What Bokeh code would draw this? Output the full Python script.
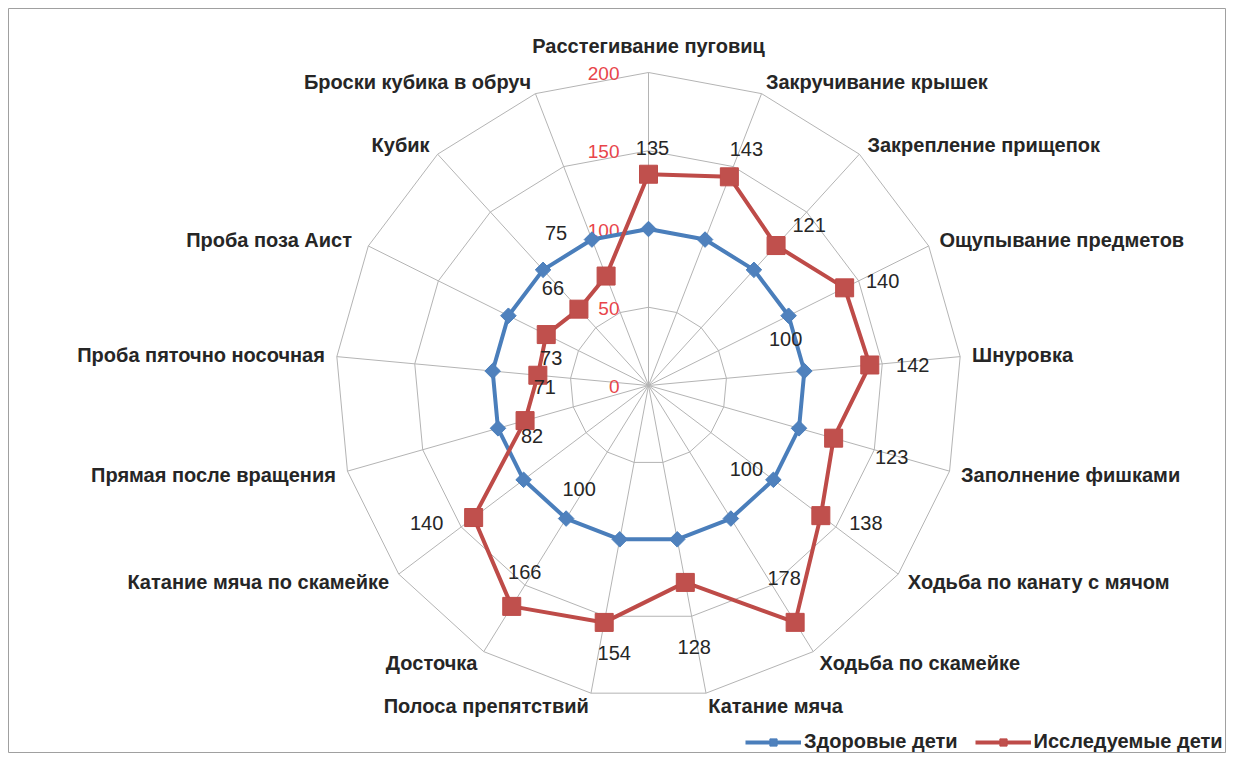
import math
from bokeh.plotting import figure
from bokeh.models import Range1d, ColumnDataSource, Legend, LegendItem
from bokeh.core.properties import value
from bokeh.embed import file_html
from bokeh.resources import INLINE

# ---------------- data ----------------
categories = [
    "Расстегивание пуговиц",
    "Закручивание крышек",
    "Закрепление прищепок",
    "Ощупывание предметов",
    "Шнуровка",
    "Заполнение фишками",
    "Ходьба по канату с мячом",
    "Ходьба по  скамейке",
    "Катание мяча",
    "Полоса препятствий",
    "Досточка",
    "Катание мяча по скамейке",
    "Прямая после вращения",
    "Проба пяточно носочная",
    "Проба  поза Аист",
    "Кубик",
    "Броски кубика в обруч",
]
healthy = [100, 100, 100, 100, 100, 100, 100, 100, 100, 100, 100, 100, 100, 100, 100, 100, 100]
studied = [135, 143, 121, 140, 142, 123, 138, 178, 128, 154, 166, 140, 82, 71, 73, 66, 75]
series_names = ["Здоровые дети", "Исследуемые дети"]
ring_values = [50, 100, 150, 200]
tick_values = [0, 50, 100, 150, 200]
tick_labels = ["0", "50", "100", "150", "200"]
healthy_label_idx = [3, 6, 10]

# label placement (screen px offsets, y downwards)
studied_label_dx = [4, 17, 33, 38, 43, 58, 45, -11, 9, 10, 13, -47, 7, 7, 5, -26, -50]
studied_label_dy = [-26, -28, -21, -7, 0, 19, 7, -44, 65, 31, -34, 5, 15, 12, 23, -21, -43]
healthy_label_dx = [-3, -27, 13]
healthy_label_dy = [23, -11, -30]

# ---------------- styling ----------------
BLUE_LINE = "#4A7EBB"
BLUE_FILL = "#4F81BD"
RED_LINE = "#BE4B48"
RED_FILL = "#C0504D"
GRID = "#B4B4B4"
TICK_RED = "#E8454A"
TEXT = "#262626"
FONT_NAME = "Liberation Sans"
FONT = value(FONT_NAME)

n = len(categories)
ang = [math.pi / 2 - 2 * math.pi * i / n for i in range(n)]
cs = [math.cos(a) for a in ang]
sn = [math.sin(a) for a in ang]

W, H = 1226, 753
ML, MT = 8, 8
FW, FH = W - ML, H - MT
k = 1.565
cx, cy = 640, 377  # centre inside the frame
p = figure(width=W, height=H, output_backend="svg", toolbar_location=None,
           x_range=Range1d(-cx / k, (FW - cx) / k),
           y_range=Range1d(-(FH - cy) / k, cy / k),
           min_border_left=ML, min_border_top=MT, min_border_right=0, min_border_bottom=0,
           background_fill_color="white", border_fill_color="white")
p.axis.visible = False
p.grid.visible = False
p.outline_line_color = "#A0A0A0"
p.outline_line_width = 1

# rings
rx, ry = [], []
for rv in ring_values:
    rx.append([rv * c for c in cs] + [rv * cs[0]])
    ry.append([rv * s for s in sn] + [rv * sn[0]])
p.multi_line(rx, ry, line_color=GRID, line_width=1)
# spokes
outer = max(ring_values)
p.segment(x0=[0] * n, y0=[0] * n, x1=[outer * c for c in cs], y1=[outer * s for s in sn],
          line_color=GRID, line_width=1)

# tick labels (on the top spoke, left side)
p.text(x=[0] * len(tick_values), y=tick_values, text=tick_labels, x_offset=-29, y_offset=1,
       text_align="right", text_baseline="middle", text_color=TICK_RED,
       text_font=FONT, text_font_size="19px")

# series
def closed(vals):
    xs = [v * c for v, c in zip(vals, cs)]
    ys = [v * s for v, s in zip(vals, sn)]
    return xs, ys

hx, hy = closed(healthy)
sx, sy = closed(studied)
bl = p.line(hx + [hx[0]], hy + [hy[0]], line_color=BLUE_LINE, line_width=4, line_join="round")
bm = p.scatter(hx, hy, marker="square", angle=math.pi / 4, size=11,
               fill_color=BLUE_FILL, line_color=BLUE_LINE)
rl = p.line(sx + [sx[0]], sy + [sy[0]], line_color=RED_LINE, line_width=4, line_join="round")
rm = p.scatter(sx, sy, marker="square", size=18, fill_color=RED_FILL, line_color=RED_LINE)

# data labels
p.text(x=sx, y=sy, text=[str(v) for v in studied], x_offset=studied_label_dx,
       y_offset=studied_label_dy, text_align="center", text_baseline="middle",
       text_color=TEXT, text_font=FONT, text_font_size="20px")
p.text(x=[hx[i] for i in healthy_label_idx], y=[hy[i] for i in healthy_label_idx],
       text=[str(healthy[i]) for i in healthy_label_idx], x_offset=healthy_label_dx,
       y_offset=healthy_label_dy, text_align="center", text_baseline="middle",
       text_color=TEXT, text_font=FONT, text_font_size="20px")

# category labels
groups = {"left": [], "right": [], "center": []}
for i in range(n):
    if cs[i] > 0.1:
        groups["left"].append(i)
    elif cs[i] < -0.1:
        groups["right"].append(i)
    else:
        groups["center"].append(i)
for align, idx in groups.items():
    if not idx:
        continue
    src = ColumnDataSource(dict(
        x=[outer * cs[i] for i in idx],
        y=[outer * sn[i] for i in idx],
        t=[categories[i] for i in idx],
        dx=[12 * cs[i] for i in idx],
        dy=[-13 * sn[i] - (14 if align == "center" else 0) for i in idx],
    ))
    p.text(x="x", y="y", text="t", x_offset="dx", y_offset="dy", source=src,
           text_align=align, text_baseline="middle", text_color=TEXT,
           text_font=FONT, text_font_style="bold", text_font_size="20px")

legend = Legend(items=[LegendItem(label=series_names[0], renderers=[bl, bm]),
                       LegendItem(label=series_names[1], renderers=[rl, rm])],
                orientation="horizontal", location=(737, 0),
                glyph_width=56, glyph_height=18, label_height=18, label_standoff=3, spacing=17,
                padding=0, margin=0, border_line_color=None, background_fill_alpha=0,
                label_text_font=FONT_NAME, label_text_font_style="bold",
                label_text_font_size="20px", label_text_color=TEXT)
p.add_layout(legend)

open("out.html", "w").write(file_html(p, INLINE))
